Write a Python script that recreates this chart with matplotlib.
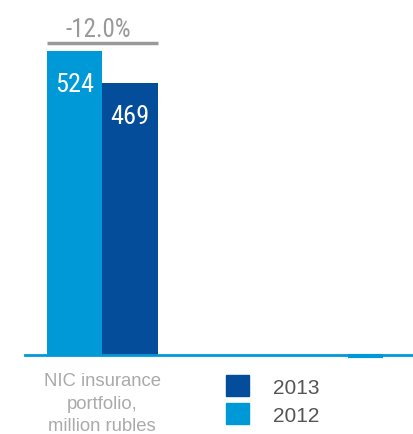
import matplotlib
matplotlib.use("Agg")
import matplotlib.pyplot as plt
from matplotlib.patches import Patch
from matplotlib import font_manager

# data
years = ["2012", "2013"]
values = [524, 469]
change_label = "-12.0%"
category = "NIC insurance\nportfolio,\nmillion rubles"

light = "#0099d8"
dark = "#034d9b"
colors = [light, dark]

# pick a narrow face if one is installed
names = set(f.name for f in font_manager.fontManager.ttflist)
narrow, nsize, psize = "DejaVu Sans", 15, 14
for cand in ["Roboto Condensed", "Open Sans Condensed", "Noto Sans Condensed",
             "DejaVu Sans Condensed", "Liberation Sans Narrow"]:
    if cand in names:
        narrow, nsize, psize = cand, 19, 18
        break

fig = plt.figure(figsize=(4.14, 4.35), dpi=100)
ax = fig.add_axes([25/414, 79/435, 389/414, 356/435])

w = 0.4
xs = [-w/2, w/2]
bars = ax.bar(xs, values, width=w, color=colors, linewidth=0)

ax.set_xlim(-0.555, 2.248)
ax.set_ylim(0, 613.6)

# value labels
for b, v in zip(bars, values):
    ax.annotate(str(v), (b.get_x() + b.get_width()/2, v), xytext=(0, -15),
                textcoords="offset points", ha="center", va="top",
                color="white", fontsize=nsize, family=narrow)

# change bracket
ax.plot([-w, w], [537, 537], color="#999999", lw=2.5, clip_on=False, solid_capstyle="butt")
ax.text(-0.03, 542, change_label, ha="center", va="bottom", color="#999999",
        fontsize=psize, family=narrow)

# baseline
ax.axhline(0, color=light, lw=2, clip_on=False)
ax.plot([1.773, 2.025], [-1.5, -1.5], color=light, lw=3, clip_on=False, solid_capstyle="butt")

for s in ax.spines.values():
    s.set_visible(False)
ax.set_yticks([])
ax.set_xticks([0])
ax.set_xticklabels([category], color="#aaaaaa", fontsize=13.3, family="Liberation Sans",
                   linespacing=1.45)
ax.tick_params(axis="x", length=0, pad=12)

handles = [Patch(color=dark, label="2013"), Patch(color=light, label="2012")]
fig.legend(handles=handles, loc="upper left", bbox_to_anchor=(226/414, 1 - 376/435),
           frameon=False, borderpad=0, borderaxespad=0, handlelength=1.1, handleheight=1.2,
           handletextpad=1.15, labelspacing=0.3,
           prop={"family": "Liberation Sans", "size": 15}, labelcolor="#555555")

fig.savefig("out.png", dpi=100)
